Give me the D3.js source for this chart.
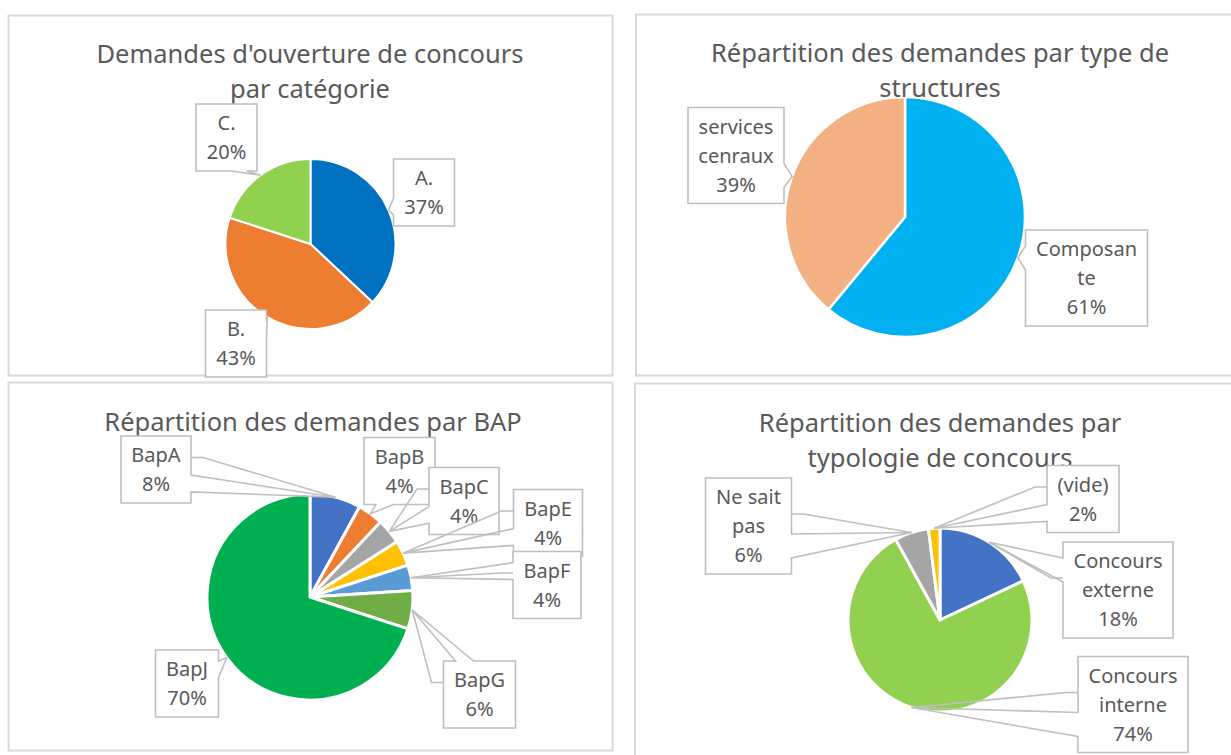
<!DOCTYPE html>
<html>
<head>
<meta charset="utf-8">
<script src="https://cdn.jsdelivr.net/npm/d3@7"></script>
<style>
  body { margin: 0; background: #fff; }
  svg { display: block; font-family: "Noto Sans", sans-serif; }
</style>
</head>
<body>
<svg id="chart" width="1231" height="755"></svg>
<script>
// ---- data ----
var catCategories = ["A.", "B.", "C."];
var catValues = [37, 43, 20];

var structCategories = ["Composante", "services cenraux"];
var structValues = [61, 39];

var bapCategories = ["BapA", "BapB", "BapC", "BapE", "BapF", "BapG", "BapJ"];
var bapValues = [8, 4, 4, 4, 4, 6, 70];

var typeCategories = ["Concours externe", "Concours interne", "Ne sait pas", "(vide)"];
var typeValues = [18, 74, 6, 2];

// ---- styles / layout ----
var catColors = ["#0070C0", "#ED7D31", "#92D050"];
var structColors = ["#00B0F0", "#F4B183"];
var bapColors = ["#4472C4", "#ED7D31", "#A5A5A5", "#FFC000", "#5B9BD5", "#70AD47", "#00B050"];
var typeColors = ["#4472C4", "#92D050", "#A5A5A5", "#FFC000"];

// how the labels wrap inside their boxes
var labelLines = {
    "Composante": ["Composan", "te"],
    "services cenraux": ["services", "cenraux"],
    "Concours externe": ["Concours", "externe"],
    "Concours interne": ["Concours", "interne"],
    "Ne sait pas": ["Ne sait", "pas"]
};

var panels = [
    {
        frame: [8.5, 15.5, 604, 360], cx: 310.5, cy: 244, r: 85, sep: 2,
        title: ["Demandes d'ouverture de concours", "par catégorie"], tx: 310, ty: 63,
        categories: catCategories, values: catValues, colors: catColors,
        offsets: [[113.5, -51.5], [-74.5, 99.5], [-84, -106.5]]
    },
    {
        frame: [636, 14.5, 620, 361], cx: 905, cy: 217, r: 120, sep: 2.5,
        title: ["Répartition des demandes par type de", "structures"], tx: 940, ty: 62,
        categories: structCategories, values: structValues, colors: structColors,
        offsets: [[181.5, 61], [-169, -61.5]]
    },
    {
        frame: [8.5, 382.5, 604, 368], cx: 310, cy: 597, r: 103, sep: 3,
        title: ["Répartition des demandes par BAP"], tx: 313, ty: 431,
        categories: bapCategories, values: bapValues, colors: bapColors,
        offsets: [[-154, -127.5], [89.5, -126], [154, -96], [238, -74],
                  [237, -12], [169.5, 97.5], [-123, 86.5]]
    },
    {
        frame: [635, 383.5, 620, 400], cx: 940, cy: 620, r: 92, sep: 3,
        title: ["Répartition des demandes par", "typologie de concours"], tx: 940, ty: 432,
        categories: typeCategories, values: typeValues, colors: typeColors,
        offsets: [[178, -30], [193, 84.5], [-191.5, -94], [143, -121]]
    }
];

var textColor = "#595959";
var lineColor = "#BFBFBF";
var titleSize = 25.5;
var titleLineH = 35;
var labelSize = 20;
var labelLineH = 29;

var svg = d3.select("#chart");

// callout shape (rectangle with a wedge pointing to the slice)
function calloutPath(l, t, w, h, px, py) {
    var r = l + w, b = t + h, hc = l + w / 2, vc = t + h / 2;
    var dxPos = px - hc, dyPos = py - vc;
    var side = null;
    if (!(px >= l && px <= r && py >= t && py <= b)) {
        if (Math.abs(dxPos * h) > Math.abs(dyPos * w)) side = dxPos > 0 ? "right" : "left";
        else side = dyPos > 0 ? "bottom" : "top";
    }
    var x1 = l + w * (dxPos > 0 ? 7 : 2) / 12, x2 = l + w * (dxPos > 0 ? 10 : 5) / 12;
    var y1 = t + h * (dyPos > 0 ? 7 : 2) / 12, y2 = t + h * (dyPos > 0 ? 10 : 5) / 12;
    var p = d3.path();
    p.moveTo(l, t);
    if (side == "top") { p.lineTo(x1, t); p.lineTo(px, py); p.lineTo(x2, t); }
    p.lineTo(r, t);
    if (side == "right") { p.lineTo(r, y1); p.lineTo(px, py); p.lineTo(r, y2); }
    p.lineTo(r, b);
    if (side == "bottom") { p.lineTo(x2, b); p.lineTo(px, py); p.lineTo(x1, b); }
    p.lineTo(l, b);
    if (side == "left") { p.lineTo(l, y2); p.lineTo(px, py); p.lineTo(l, y1); }
    p.closePath();
    return p.toString();
}

function distToBox(l, t, w, h, px, py) {
    var dx = Math.max(l - px, 0, px - (l + w));
    var dy = Math.max(t - py, 0, py - (t + h));
    return Math.sqrt(dx * dx + dy * dy);
}

// frames
panels.forEach(function(p) {
    svg.append("rect")
        .attr("x", p.frame[0]).attr("y", p.frame[1])
        .attr("width", p.frame[2]).attr("height", p.frame[3])
        .attr("fill", "#fff")
        .attr("stroke", "#D9D9D9")
        .attr("stroke-width", 2);
});

panels.forEach(function(p) {
    var data = p.categories.map(function(c, i) {
        return { name: c, value: p.values[i], color: p.colors[i] };
    });
    var total = d3.sum(p.values);

    var pie = d3.pie().sort(null).value(function(d) { return d.value; });
    var arc = d3.arc().innerRadius(0).outerRadius(p.r);
    var arcs = pie(data);

    var g = svg.append("g").attr("transform", "translate(" + p.cx + "," + p.cy + ")");
    g.selectAll("path.slice")
        .data(arcs)
        .join("path")
        .attr("class", "slice")
        .attr("d", arc)
        .attr("fill", function(d) { return d.data.color; })
        .attr("stroke", "#fff")
        .attr("stroke-width", p.sep)
        .attr("stroke-linejoin", "round");

    // title
    var title = svg.append("text")
        .attr("text-anchor", "middle")
        .attr("fill", textColor)
        .style("font-size", titleSize + "px");
    p.title.forEach(function(line, i) {
        title.append("tspan")
            .attr("x", p.tx)
            .attr("y", p.ty + i * titleLineH)
            .text(line);
    });

    // labels with callouts
    arcs.forEach(function(a, i) {
        var mid = (a.startAngle + a.endAngle) / 2;
        var px = p.cx + p.r * Math.sin(mid);
        var py = p.cy - p.r * Math.cos(mid);
        var lines = (labelLines[a.data.name] || [a.data.name]).concat(
            [Math.round(a.data.value / total * 100) + "%"]);

        var lg = svg.append("g");
        var bg = lg.append("rect").attr("fill", "#fff");
        var shape = lg.append("path")
            .attr("fill", "none")
            .attr("stroke", lineColor)
            .attr("stroke-width", 1.6);
        var leader = lg.append("path")
            .attr("fill", "none")
            .attr("stroke", lineColor)
            .attr("stroke-width", 1.6);

        var bx = p.cx + p.offsets[i][0];
        var by = p.cy + p.offsets[i][1];
        var h = lines.length * labelLineH + 9;
        var top = by - h / 2;

        var txt = lg.append("text")
            .attr("text-anchor", "middle")
            .attr("fill", textColor)
            .style("font-size", labelSize + "px");
        var maxW = 0;
        lines.forEach(function(line, k) {
            var ts = txt.append("tspan")
                .attr("x", bx)
                .attr("y", top + 4.5 + labelLineH * (k + 0.5) + labelSize * 0.35)
                .text(line);
            maxW = Math.max(maxW, ts.node().getComputedTextLength());
        });
        var w = Math.round(maxW + 21);
        var left = bx - w / 2;

        bg.attr("x", left).attr("y", top).attr("width", w).attr("height", h);
        shape.attr("d", calloutPath(left, top, w, h, px, py));

        if (distToBox(left, top, w, h, px, py) > 18) {
            var sx = px < bx ? left : left + w;
            var stub = px < bx ? sx - 12 : sx + 12;
            var sy = by - 12;
            leader.attr("d", "M" + sx + "," + sy + "L" + stub + "," + sy + "L" + px + "," + py);
        }
    });
});
</script>
</body>
</html>
